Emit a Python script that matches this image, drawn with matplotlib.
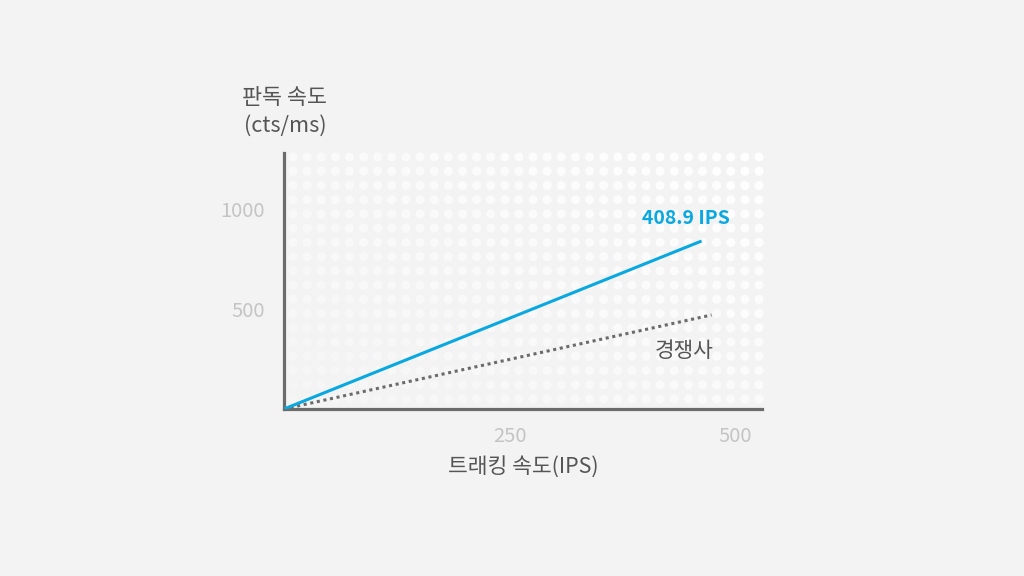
import numpy as np
import matplotlib
matplotlib.use("Agg")
import matplotlib.pyplot as plt

BG = "#f3f3f3"
AXIS = "#6b6b6b"
TEXT = "#555555"
MUTED = "#c4c4c4"
BLUE = "#0aa8e0"

# data
ours_x = [0, 463]
ours_y = [0, 840]
rival_x = [0, 474]
rival_y = [0, 470]
x_ticks = [250, 500]
y_ticks = [500, 1000]
ours_label = "408.9 IPS"
rival_label = "경쟁사"

plt.rcParams["font.family"] = ["Noto Sans CJK KR", "DejaVu Sans"]

fig = plt.figure(figsize=(10.24, 5.76), dpi=100, facecolor=BG)
ax = fig.add_axes([284 / 1024, 1 - 409 / 576, 478 / 1024, 256 / 576])
ax.set_facecolor(BG)
ax.set_xlim(0, 530)
ax.set_ylim(0, 1280)

# dotted background texture, brighter toward upper right
cols, rows = 34, 18
gx = np.linspace((293 - 284) / 478, (759 - 284) / 478, cols)
gy = np.linspace((409 - 157) / 256, (409 - 399) / 256, rows)
XX, YY = np.meshgrid(gx, gy)
alpha = np.clip(0.2 + 0.45 * XX + 0.35 * YY, 0, 1)
rgba = np.zeros((XX.size, 4))
rgba[:, :3] = 1.0
rgba[:, 3] = alpha.ravel()
ax.scatter(XX.ravel(), YY.ravel(), s=42, c=rgba, linewidths=0,
           transform=ax.transAxes, zorder=0, clip_on=False)

ax.plot(ours_x, ours_y, color=BLUE, linewidth=2.2, zorder=3,
        solid_capstyle="butt")
ax.plot(rival_x, rival_y, color=AXIS, linewidth=2.2, zorder=2,
        dashes=(1, 1.2))

for side in ("top", "right"):
    ax.spines[side].set_visible(False)
for side in ("left", "bottom"):
    ax.spines[side].set_color(AXIS)
    ax.spines[side].set_linewidth(2.3)

ax.set_xticks(x_ticks)
ax.set_yticks(y_ticks)
ax.tick_params(length=0, colors=MUTED, labelsize=14.5)
ax.tick_params(axis="x", pad=12)
ax.tick_params(axis="y", pad=13.5)

ax.text(ours_x[-1] + 31, ours_y[-1] + 115, ours_label, color=BLUE,
        fontsize=14, fontweight="bold", ha="right", va="center")
ax.text(rival_x[-1] + 2, rival_y[-1] - 180, rival_label, color=TEXT,
        fontsize=15.4, ha="right", va="center")

fig.text(284 / 1024, 1 - 98 / 576, "판독 속도", color=TEXT, fontsize=15.7,
         ha="center", va="center")
fig.text(285 / 1024, 1 - 126 / 576, "(cts/ms)", color=TEXT, fontsize=15.6,
         ha="center", va="center")
fig.text(523 / 1024, 1 - 467 / 576, "트래킹 속도(IPS)", color=TEXT,
         fontsize=15.5, ha="center", va="center")

fig.savefig("out.png", dpi=100, facecolor=BG)
